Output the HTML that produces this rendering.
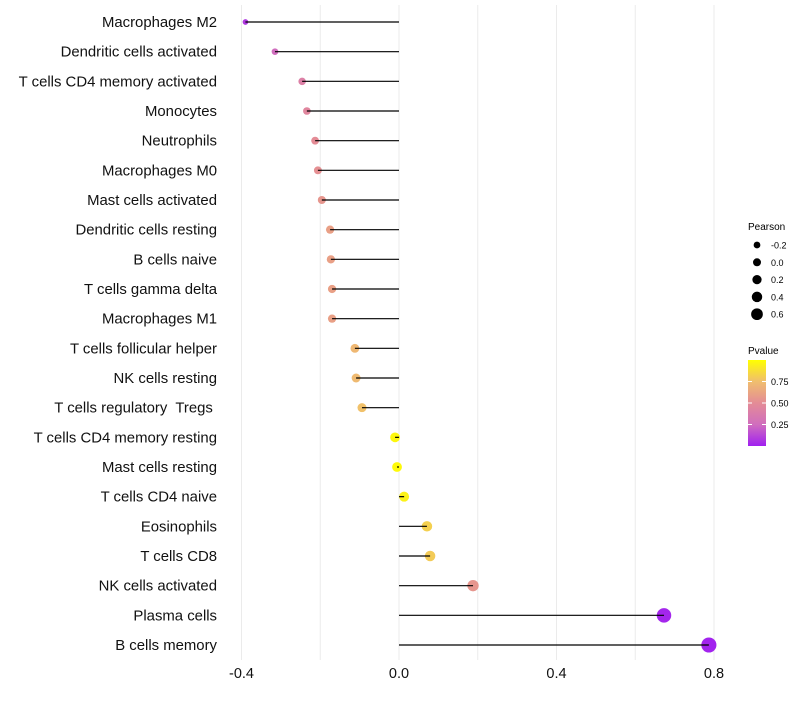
<!DOCTYPE html>
<html><head><meta charset="utf-8"><style>
body{margin:0;background:#fff;}
svg text{font-family:"Liberation Sans",sans-serif;white-space:pre;}
</style></head><body>
<svg id="chart" width="800" height="700"></svg>
<script>
const categories=["Macrophages M2","Dendritic cells activated","T cells CD4 memory activated","Monocytes","Neutrophils","Macrophages M0","Mast cells activated","Dendritic cells resting","B cells naive","T cells gamma delta","Macrophages M1","T cells follicular helper","NK cells resting","T cells regulatory  Tregs ","T cells CD4 memory resting","Mast cells resting","T cells CD4 naive","Eosinophils","T cells CD8","NK cells activated","Plasma cells","B cells memory"];
const pearson=[-0.39,-0.315,-0.246,-0.234,-0.213,-0.206,-0.196,-0.175,-0.173,-0.17,-0.17,-0.112,-0.109,-0.094,-0.01,-0.005,0.013,0.071,0.079,0.188,0.673,0.787];
const pvalue=[0.08,0.25,0.4,0.45,0.5,0.52,0.55,0.6,0.6,0.6,0.6,0.72,0.73,0.76,0.97,0.98,0.95,0.82,0.8,0.55,0.02,0.01];
const xTicks=[-0.4,0.0,0.4,0.8];
const xTickLabels=["-0.4","0.0","0.4","0.8"];
const sizeLegend=[-0.2,0.0,0.2,0.4,0.6];
const colorTicks=[0.25,0.5,0.75];

const NS="http://www.w3.org/2000/svg";
const svg=document.getElementById('chart');
const x=v=>399+v*393.75;
const y=i=>22+i*(623/21);
const r=v=>1.08*Math.sqrt(Math.max(1,20.8+35.8*v));
const stops=[[0,[160,32,240]],[0.25,[208,110,190]],[0.5,[228,140,150]],[0.75,[240,190,110]],[1,[255,255,0]]];
function col(p){for(let k=1;k<stops.length;k++){if(p<=stops[k][0]){const a=stops[k-1],b=stops[k],t=(p-a[0])/(b[0]-a[0]);return 'rgb('+a[1].map((c,j)=>Math.round(c+(b[1][j]-c)*t)).join(',')+')';}}return 'rgb(255,255,0)';}
function el(t,a,p){const e=document.createElementNS(NS,t);for(const k in a)e.setAttribute(k,a[k]);(p||svg).appendChild(e);return e;}
const cy=p=>446-p*86;
for(let v=-0.4;v<=0.81;v+=0.2){const g=el('line',{x1:x(v),x2:x(v),y1:5,y2:660,stroke:'#ebebeb','stroke-width':1});

}
xTicks.forEach((v,i)=>{const t=el('text',{x:x(v),y:678,'text-anchor':'middle','font-size':14.5,fill:'#111'});t.textContent=xTickLabels[i];

});
categories.forEach((c,i)=>{
const t=el('text',{x:217,y:y(i)+5,'text-anchor':'end','font-size':14.9,fill:'#111'});t.textContent=c;


const d=el('circle',{cx:x(pearson[i]),cy:y(i),r:r(pearson[i]),fill:col(pvalue[i])});


const l=el('line',{x1:x(0),x2:x(pearson[i]),y1:y(i),y2:y(i),stroke:'#000','stroke-width':1.2});


});
let t=el('text',{x:748,y:230,'font-size':10});t.textContent='Pearson';


sizeLegend.forEach((v,i)=>{const yy=245+i*17.3;
const c=el('circle',{cx:757,cy:yy,r:4+v*3.1,fill:'#000'});


const tt=el('text',{x:771,y:yy+3.5,'font-size':9});tt.textContent=v.toFixed(1);

});
t=el('text',{x:748,y:354,'font-size':10});t.textContent='Pvalue';


const defs=el('defs',{});const lg=el('linearGradient',{id:'pg',x1:0,y1:1,x2:0,y2:0},defs);
stops.forEach(s=>el('stop',{offset:s[0],'stop-color':'rgb('+s[1].join(',')+')'},lg));
const bar=el('rect',{x:748,y:360,width:18,height:86,fill:'url(#pg)'});


colorTicks.forEach(p=>{el('line',{x1:748,x2:752,y1:cy(p),y2:cy(p),stroke:'#fff'});el('line',{x1:762,x2:766,y1:cy(p),y2:cy(p),stroke:'#fff'});
const tt=el('text',{x:771,y:cy(p)+3.5,'font-size':9});tt.textContent=p.toFixed(2);

});
</script>
</body></html>
